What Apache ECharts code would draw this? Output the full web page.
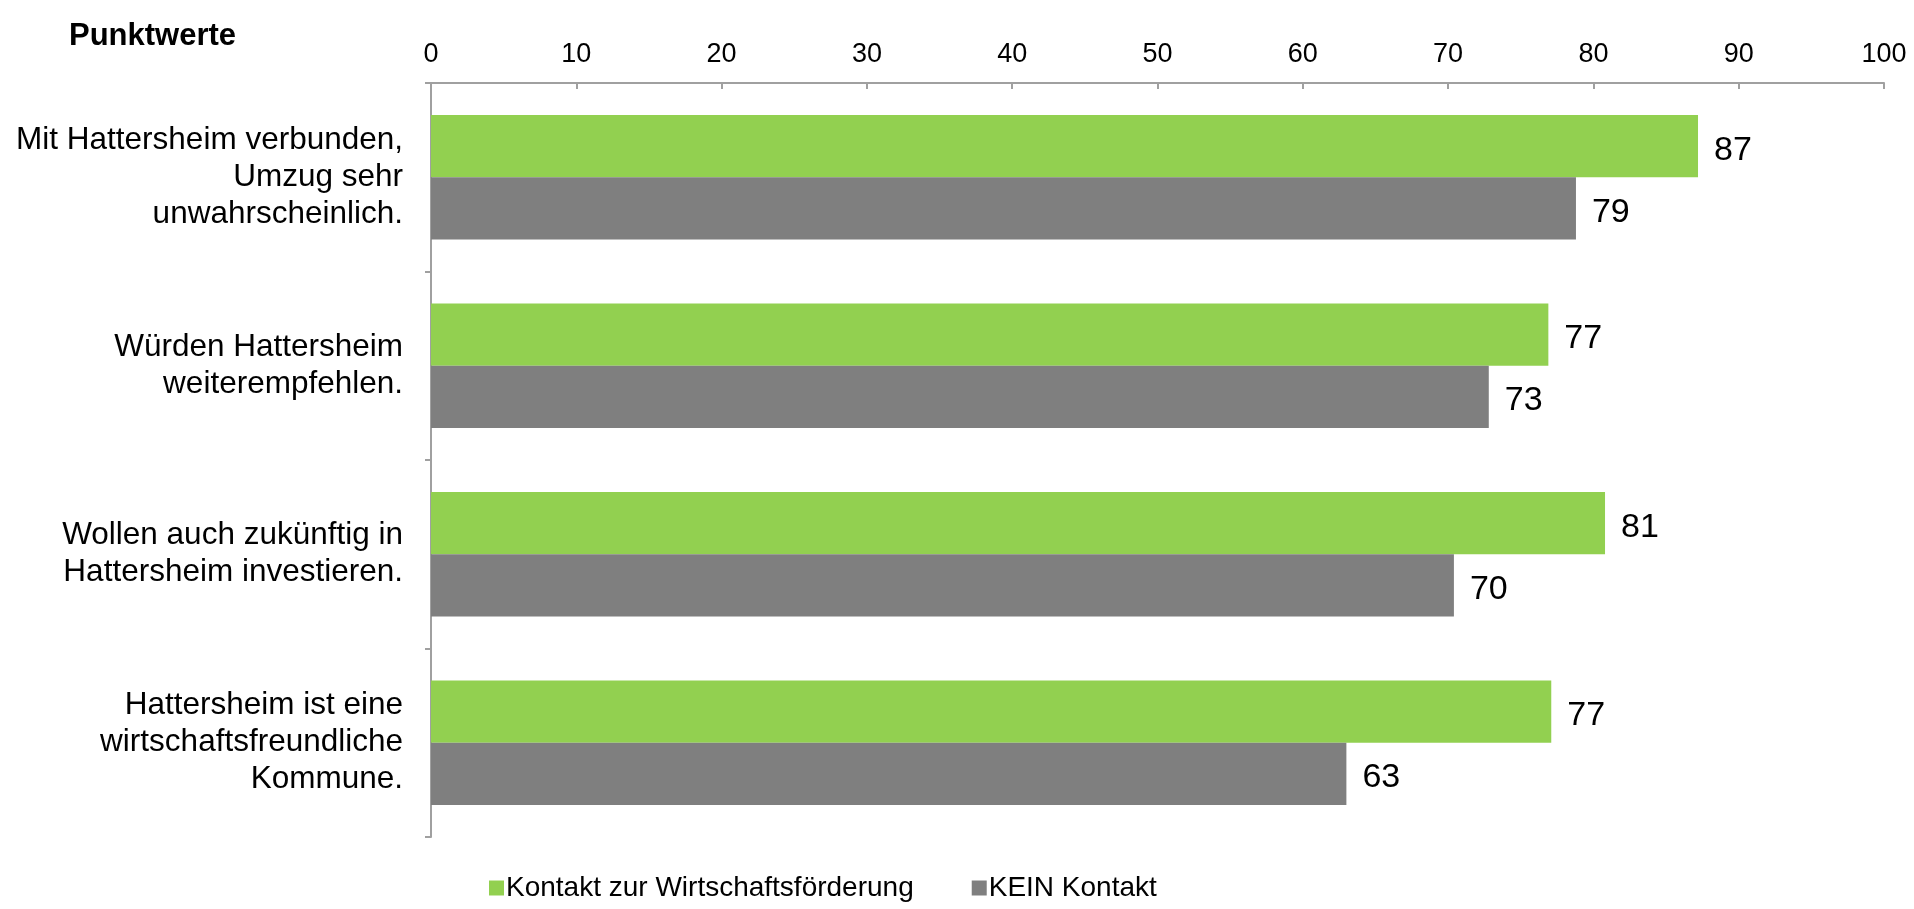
<!DOCTYPE html>
<html>
<head>
<meta charset="utf-8">
<title>Punktwerte</title>
<script src="https://cdn.jsdelivr.net/npm/echarts@6/dist/echarts.min.js"></script>
<style>
  html, body { margin: 0; padding: 0; background: #fff; }
  #main { width: 1914px; height: 909px; }
</style>
</head>
<body>
<div id="main"></div>
<script>
const categories = [
  'Mit Hattersheim verbunden,\nUmzug sehr\nunwahrscheinlich.',
  'Würden Hattersheim\nweiterempfehlen.',
  'Wollen auch zukünftig in\nHattersheim investieren.',
  'Hattersheim ist eine\nwirtschaftsfreundliche\nKommune.'
];
const seriesNames = ['Kontakt zur Wirtschaftsförderung', 'KEIN Kontakt'];
const kontakt = [87.2, 76.9, 80.8, 77.1];
const keinKontakt = [78.8, 72.8, 70.4, 63.0];
const xTicks = [0, 10, 20, 30, 40, 50, 60, 70, 80, 90, 100];

const FONT = '"Liberation Sans", Arial, sans-serif';

let myChart = echarts.init(document.getElementById('main'));

let option = {
  animation: false,
  title: {
    text: 'Punktwerte',
    left: 64,
    top: 16,
    textStyle: {
      fontFamily: FONT,
      fontSize: 31,
      fontWeight: 'bold',
      color: '#000'
    }
  },
  legend: {
    data: seriesNames,
    left: 484,
    top: 869,
    icon: 'rect',
    itemWidth: 15,
    itemHeight: 15,
    itemGap: 58,
    textStyle: {
      fontFamily: FONT,
      fontSize: 28,
      color: '#000',
      padding: [0, 0, 0, -3]
    }
  },
  grid: {
    left: 431,
    right: 30,
    top: 83,
    bottom: 72,
    containLabel: false
  },
  xAxis: {
    type: 'value',
    position: 'top',
    min: xTicks[0],
    max: xTicks[xTicks.length - 1],
    interval: 10,
    axisLine: { show: true, lineStyle: { color: '#a0a0a0', width: 2 } },
    axisTick: { show: true, inside: true, length: 6, lineStyle: { color: '#a0a0a0', width: 2 } },
    splitLine: { show: false },
    axisLabel: {
      margin: 15,
      fontFamily: FONT,
      fontSize: 27,
      color: '#000'
    }
  },
  yAxis: {
    type: 'category',
    inverse: true,
    data: categories,
    axisLine: { show: true, lineStyle: { color: '#a0a0a0', width: 2 } },
    axisTick: { show: true, length: 6, lineStyle: { color: '#a0a0a0', width: 2 } },
    axisLabel: {
      margin: 28,
      align: 'right',
      fontFamily: FONT,
      fontSize: 31.5,
      lineHeight: 37,
      padding: [10, 0, 0, 0],
      color: '#000'
    }
  },
  series: [
    {
      name: seriesNames[0],
      type: 'bar',
      data: kontakt,
      barGap: '0%',
      barCategoryGap: '34%',
      itemStyle: { color: '#92d050' },
      label: {
        show: true,
        position: 'right',
        distance: 16,
        offset: [0, 4],
        fontFamily: FONT,
        fontSize: 34,
        color: '#000',
        formatter: p => Math.round(p.value)
      }
    },
    {
      name: seriesNames[1],
      type: 'bar',
      data: keinKontakt,
      barGap: '0%',
      barCategoryGap: '34%',
      itemStyle: { color: '#7f7f7f' },
      label: {
        show: true,
        position: 'right',
        distance: 16,
        offset: [0, 4],
        fontFamily: FONT,
        fontSize: 34,
        color: '#000',
        formatter: p => Math.round(p.value)
      }
    }
  ]
};

myChart.setOption(option);
</script>
</body>
</html>
